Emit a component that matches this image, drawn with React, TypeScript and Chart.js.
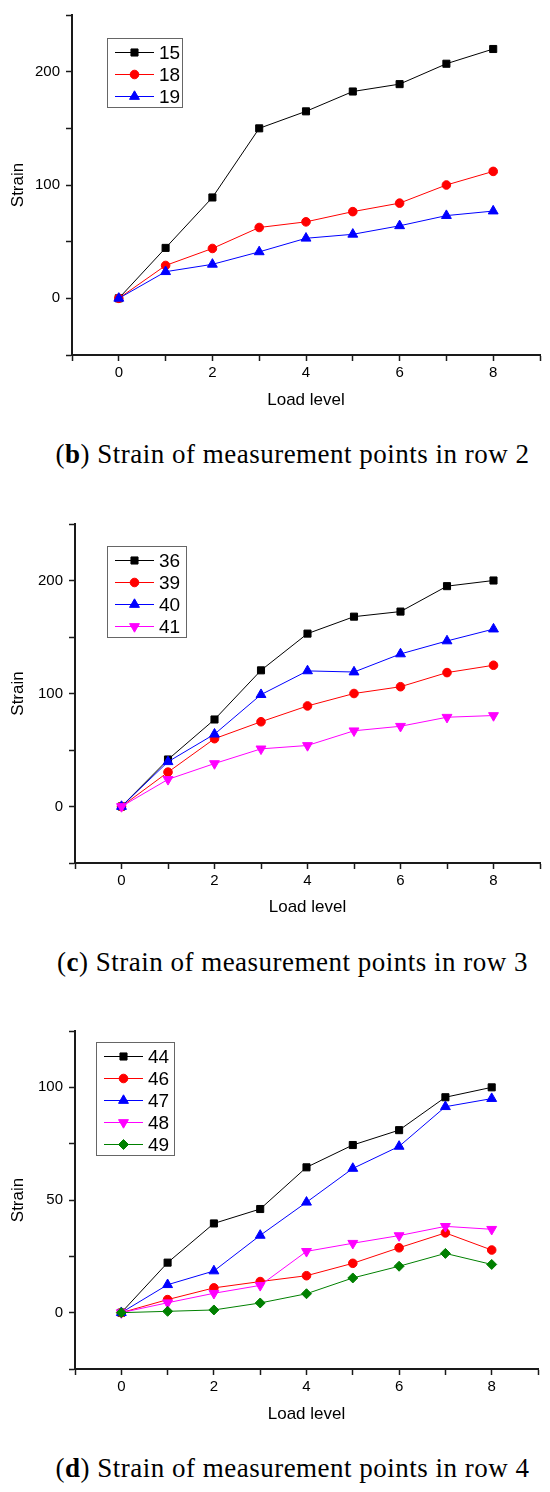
import { useEffect, useRef } from "react";
import { Chart, registerables } from "chart.js";
import { drawPoint } from "chart.js/helpers";

Chart.register(...registerables);
Chart.defaults.font.family = "'Liberation Sans', Arial, sans-serif";

// shared x axis
const loadLevels = [0, 1, 2, 3, 4, 5, 6, 7, 8];
const xTickLabels = [0, 2, 4, 6, 8];

// (b) row 2
const row2Names = ["15", "18", "19"];
const p15 = [0, 44.5, 89, 150, 165, 182.5, 189, 207, 220];
const p18 = [0, 29, 44, 62.5, 67.5, 76.5, 84, 100, 112];
const p19 = [0, 23.5, 30, 41, 53, 56.5, 64, 73, 77];
const row2Ticks = [0, 100, 200];

// (c) row 3
const row3Names = ["36", "39", "40", "41"];
const p36 = [0, 41.6, 77, 120.5, 153, 168, 172.5, 195, 200];
const p39 = [0, 30.4, 60, 75, 89, 100, 106, 118.5, 125];
const p40 = [0, 39.6, 64, 99, 120, 119, 135, 146.5, 157];
const p41 = [0, 24, 38, 51, 54, 67, 71, 79, 80.5];
const row3Ticks = [0, 100, 200];

// (d) row 4
const row4Names = ["44", "46", "47", "48", "49"];
const p44 = [0, 22.2, 39.6, 46, 64.5, 74.4, 81, 95.6, 100];
const p46 = [0, 5.8, 11, 13.8, 16.4, 21.9, 28.8, 35.4, 27.8];
const p47 = [0, 12.4, 18.5, 34.3, 49, 64, 73.8, 91.4, 95];
const p48 = [0, 4.4, 8.6, 12.1, 27.2, 30.8, 34.2, 38.3, 37];
const p49 = [0, 0.6, 1.2, 4.3, 8.4, 15.4, 20.6, 26.3, 21.4];
const row4Ticks = [0, 50, 100];

// Origin-like marker styles, in series order
const markers = [
  { color: "#000000", style: "rect", radius: 5, rotation: 0 },
  { color: "#ff0000", style: "circle", radius: 4.3, rotation: 0 },
  { color: "#0000ff", style: "triangle", radius: 5.7, rotation: 0 },
  { color: "#ff00ff", style: "triangle", radius: 5.7, rotation: 180 },
  { color: "#008000", style: "rectRot", radius: 5, rotation: 0 },
];

const axisColor = "#1a1a1a";

// legend with a line through the marker, like Origin draws it
const lineLegend = {
  id: "lineLegend",
  afterDraw(chart: any, _args: any, opts: any) {
    const { ctx } = chart;
    const ds = chart.data.datasets;
    const rowH = 22;
    const h = ds.length * rowH + 3;
    ctx.save();
    ctx.strokeStyle = "#666";
    ctx.lineWidth = 1;
    ctx.strokeRect(opts.x + 0.5, opts.y + 0.5, opts.w, h);
    ds.forEach((d: any, i: number) => {
      const cy = opts.y + 14.5 + i * rowH;
      const x0 = opts.x + 8;
      const x1 = x0 + 39;
      ctx.beginPath();
      ctx.moveTo(x0, cy);
      ctx.lineTo(x1, cy);
      ctx.strokeStyle = d.borderColor;
      ctx.lineWidth = 1;
      ctx.stroke();
      ctx.fillStyle = d.backgroundColor;
      ctx.strokeStyle = d.borderColor;
      drawPoint(ctx, { pointStyle: d.pointStyle, radius: d.pointRadius, rotation: d.pointRotation, borderWidth: 1 }, (x0 + x1) / 2, cy);
      ctx.fillStyle = "#000";
      ctx.font = "19px 'Liberation Sans', Arial, sans-serif";
      ctx.textAlign = "left";
      ctx.textBaseline = "middle";
      ctx.fillText(d.label, x1 + 5, cy + 1);
    });
    ctx.restore();
  },
};

type Box = { top: number; height: number; padTop: number; plotBottom: number; left: number; right: number };

type Props = {
  names: string[];
  values: number[][];
  yMin: number;
  yMax: number;
  yStep: number;
  yLabels: number[];
  box: Box;
  legend: { x: number; y: number; w: number };
};

function StrainChart({ names, values, yMin, yMax, yStep, yLabels, box, legend }: Props) {
  const ref = useRef<HTMLCanvasElement | null>(null);

  useEffect(() => {
    if (!ref.current) return;
    const n = names.length;
    const chart = new Chart(ref.current, {
      type: "line",
      data: {
        datasets: names.map((name, i) => ({
          label: name,
          data: loadLevels.map((x, j) => ({ x, y: values[i][j] })),
          borderColor: markers[i].color,
          backgroundColor: markers[i].color,
          borderWidth: 1,
          pointStyle: markers[i].style as any,
          pointRadius: markers[i].radius,
          pointRotation: markers[i].rotation,
          pointBorderWidth: 1,
          tension: 0,
          order: n - 1 - i,
        })),
      },
      options: {
        animation: false,
        responsive: false,
        layout: { padding: { top: box.padTop, right: 550 - box.right, left: 0, bottom: 0 } },
        plugins: {
          legend: { display: false },
          tooltip: { enabled: false },
          lineLegend: legend,
        } as any,
        scales: {
          x: {
            type: "linear",
            min: -1,
            max: 9,
            afterFit: (s: any) => {
              s.height = box.height - box.plotBottom;
            },
            ticks: {
              stepSize: 1,
              autoSkip: false,
              maxRotation: 0,
              padding: 3,
              color: "#000",
              font: { size: 15 },
              callback: (v: any) => (xTickLabels.includes(Number(v)) ? String(v) : ""),
            },
            grid: { drawOnChartArea: false, tickLength: 6, tickColor: axisColor, tickWidth: 1.5 },
            border: { color: axisColor, width: 2 },
            title: { display: true, text: "Load level", color: "#000", font: { size: 17 }, padding: 0 },
          },
          y: {
            type: "linear",
            min: yMin,
            max: yMax,
            afterFit: (s: any) => {
              s.width = box.left;
            },
            ticks: {
              stepSize: yStep,
              autoSkip: false,
              padding: 6,
              color: "#000",
              font: { size: 15 },
              callback: (v: any) => (yLabels.includes(Number(v)) ? String(v) : ""),
            },
            grid: { drawOnChartArea: false, tickLength: 6, tickColor: axisColor, tickWidth: 1.5 },
            border: { color: axisColor, width: 2 },
            title: { display: true, text: "Strain", color: "#000", font: { size: 17 }, padding: { top: 8, bottom: 0 } },
          },
        },
      },
      plugins: [lineLegend],
    });
    return () => chart.destroy();
  }, []);

  return (
    <canvas
      ref={ref}
      width={550}
      height={box.height}
      style={{ position: "absolute", left: 0, top: box.top, width: 550, height: box.height }}
    />
  );
}

function Caption({ top, letter, text }: { top: number; letter: string; text: string }) {
  return (
    <div
      style={{
        position: "absolute",
        left: 0,
        top,
        width: 585,
        textAlign: "center",
        fontFamily: "'Liberation Serif', 'Times New Roman', serif",
        fontSize: 27,
        letterSpacing: 0.5,
        lineHeight: "30px",
        color: "#000",
        whiteSpace: "nowrap",
      }}
    >
      (<b>{letter}</b>) {text}
    </div>
  );
}

export default function App() {
  return (
    <div style={{ position: "absolute", left: 0, top: 0, width: 550, height: 1492, background: "#fff" }}>
      <StrainChart
        names={row2Names}
        values={[p15, p18, p19]}
        yMin={-50}
        yMax={250}
        yStep={50}
        yLabels={row2Ticks}
        box={{ top: 0, height: 411, padTop: 11, plotBottom: 355, left: 72, right: 540 }}
        legend={{ x: 107, y: 38, w: 75 }}
      />
      <Caption top={439} letter="b" text="Strain of measurement points in row 2" />
      <StrainChart
        names={row3Names}
        values={[p36, p39, p40, p41]}
        yMin={-50}
        yMax={250}
        yStep={50}
        yLabels={row3Ticks}
        box={{ top: 490, height: 428, padTop: 34, plotBottom: 373, left: 75, right: 540 }}
        legend={{ x: 107, y: 56, w: 79 }}
      />
      <Caption top={947} letter="c" text="Strain of measurement points in row 3" />
      <StrainChart
        names={row4Names}
        values={[p44, p46, p47, p48, p49]}
        yMin={-25}
        yMax={125}
        yStep={25}
        yLabels={row4Ticks}
        box={{ top: 1000, height: 425, padTop: 31, plotBottom: 369, left: 75, right: 538 }}
        legend={{ x: 96, y: 42, w: 78 }}
      />
      <Caption top={1453} letter="d" text="Strain of measurement points in row 4" />
    </div>
  );
}
